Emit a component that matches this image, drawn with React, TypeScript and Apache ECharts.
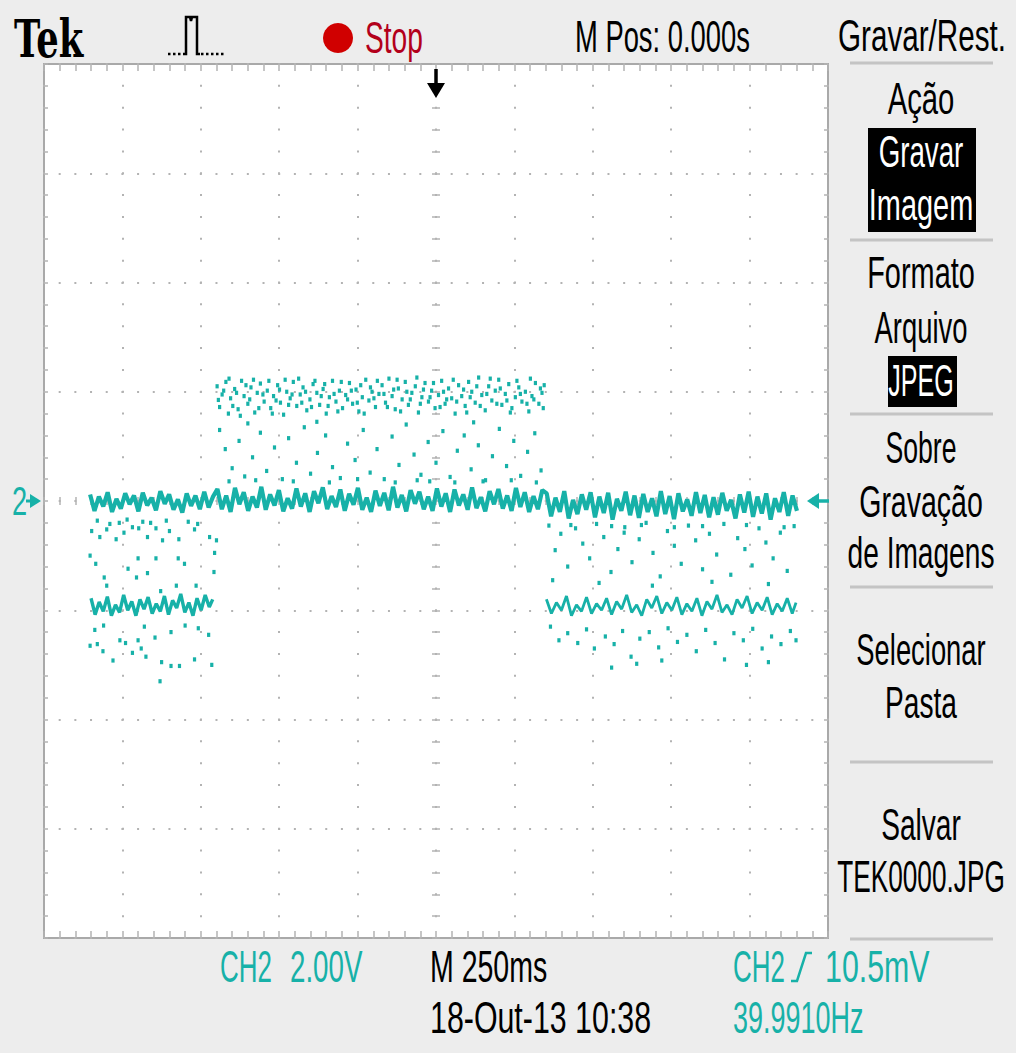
import React, { useEffect, useRef } from "react";
import * as echarts from "echarts";

// Time axis in ms (M 250ms/div, M Pos 0.000s at centre), voltage axis in V (CH2 2.00V/div)
const timeMin = -1250;
const timeMax = 1250;
const timeDiv = 250;
const voltMin = -8;
const voltMax = 8;
const voltDiv = 2;

// dense trace around 0 V
const baseBand: [number, number][] = [
  [-1103, 0.12], [-1089, -0.18], [-1075, 0.08], [-1061, -0.1], [-1047, 0.16], [-1033, -0.2], [-1019, 0.04], [-1005, -0.14],
  [-991, 0.14], [-977, -0.06], [-963, 0.1], [-949, -0.19], [-935, 0.15], [-921, -0.08], [-907, 0.06], [-893, -0.17],
  [-879, 0.18], [-865, -0.05], [-851, 0.12], [-837, -0.16], [-823, 0.03], [-809, -0.21], [-795, 0.14], [-781, -0.09],
  [-767, 0.1], [-753, -0.15], [-739, 0.17], [-725, -0.12], [-711, 0.08],
  [-697, 0.22], [-683, -0.15], [-669, 0.1], [-655, -0.2], [-641, 0.24], [-627, -0.06], [-613, 0.16], [-599, -0.18],
  [-585, 0.08], [-571, -0.12], [-557, 0.26], [-543, -0.16], [-529, 0.12], [-515, -0.08], [-501, 0.2], [-487, -0.19],
  [-473, 0.05], [-459, -0.14], [-445, 0.23], [-431, -0.1], [-417, 0.14], [-403, -0.2], [-389, 0.18], [-375, -0.04],
  [-361, 0.25], [-347, -0.15], [-333, 0.09], [-319, -0.11], [-305, 0.21], [-291, -0.18], [-277, 0.13], [-263, -0.07],
  [-249, 0.24], [-235, -0.16], [-221, 0.06], [-207, -0.2], [-193, 0.19], [-179, -0.09], [-165, 0.15], [-151, -0.17],
  [-137, 0.26], [-123, -0.12], [-109, 0.11], [-95, -0.19], [-81, 0.2], [-67, -0.05], [-53, 0.17], [-39, -0.15],
  [-25, 0.08], [-11, -0.18], [3, 0.23], [17, -0.1], [31, 0.14], [45, -0.2], [59, 0.21], [73, -0.08],
  [87, 0.12], [101, -0.16], [115, 0.25], [129, -0.13], [143, 0.07], [157, -0.19], [171, 0.18], [185, -0.06],
  [199, 0.22], [213, -0.14], [227, 0.1], [241, -0.18], [255, 0.24], [269, -0.11], [283, 0.16], [297, -0.2],
  [311, 0.09], [325, -0.15], [339, 0.2],
  [353, 0.14], [367, -0.28], [381, 0.06], [395, -0.2], [409, 0.18], [423, -0.32], [437, 0.02], [451, -0.24],
  [465, 0.12], [479, -0.16], [493, 0.16], [507, -0.3], [521, 0.08], [535, -0.22], [549, 0.15], [563, -0.34],
  [577, 0.04], [591, -0.18], [605, 0.17], [619, -0.26], [633, 0.1], [647, -0.31], [661, 0.13], [675, -0.2],
  [689, 0.05], [703, -0.28], [717, 0.18], [731, -0.24], [745, 0.09], [759, -0.33], [773, 0.14], [787, -0.19],
  [801, 0.03], [815, -0.27], [829, 0.16], [843, -0.22], [857, 0.11], [871, -0.3], [885, 0.07], [899, -0.25],
  [913, 0.15], [927, -0.18], [941, 0.02], [955, -0.32], [969, 0.12], [983, -0.21], [997, 0.17], [1011, -0.29],
  [1025, 0.08], [1039, -0.23], [1053, 0.14], [1067, -0.34], [1081, 0.05], [1095, -0.2], [1109, 0.16], [1123, -0.27],
  [1137, 0.1], [1151, -0.18],
];

// dense trace around -2 V, first segment
const lowBandA: [number, number][] = [
  [-1100, -1.78], [-1087, -2.08], [-1074, -1.85], [-1061, -2.02], [-1048, -1.75], [-1035, -2.1], [-1022, -1.9], [-1009, -2.04],
  [-996, -1.72], [-983, -2.0], [-970, -1.84], [-957, -2.1], [-944, -1.8], [-931, -1.98], [-918, -1.76], [-905, -2.06],
  [-892, -1.88], [-879, -2.02], [-866, -1.74], [-853, -2.08], [-840, -1.82], [-827, -1.96], [-814, -1.7], [-801, -2.04],
  [-788, -1.86], [-775, -2.1], [-762, -1.78], [-749, -2.0], [-736, -1.72], [-723, -1.94], [-712, -1.8],
];

// trace around -2 V, last segment
const lowBandC: [number, number][] = [
  [352, -1.8], [368, -2.06], [384, -1.86], [400, -2.0], [416, -1.74], [432, -2.1], [448, -1.9], [464, -2.02],
  [480, -1.76], [496, -2.06], [512, -1.88], [528, -2.0], [544, -1.78], [560, -2.08], [576, -1.84], [592, -1.98],
  [608, -1.72], [624, -2.04], [640, -1.9], [656, -2.1], [672, -1.8], [688, -1.96], [704, -1.74], [720, -2.06],
  [736, -1.86], [752, -2.0], [768, -1.76], [784, -2.08], [800, -1.88], [816, -2.02], [832, -1.78], [848, -2.1],
  [864, -1.84], [880, -1.98], [896, -1.72], [912, -2.04], [928, -1.9], [944, -2.08], [960, -1.8], [976, -1.96],
  [992, -1.74], [1008, -2.06], [1024, -1.86], [1040, -2.0], [1056, -1.76], [1072, -2.08], [1088, -1.88], [1104, -2.02],
  [1120, -1.78], [1136, -2.06], [1148, -1.86],
];

// scattered samples
const dotsMidA: [number, number][] = [
  [-1098, -0.55], [-1072, -0.66], [-1050, -0.52], [-1020, -0.7], [-995, -0.58], [-968, -0.48], [-948, -0.5], [-920, -0.66],
  [-893, -0.5], [-872, -0.72], [-850, -0.55], [-820, -0.7], [-770, -0.52], [-722, -0.66], [-700, -0.72], [-1103, -1.0],
  [-1085, -1.15], [-950, -1.05], [-893, -1.05], [-822, -1.05], [-802, -1.15], [-1058, -1.4], [-982, -1.24], [-955, -1.4],
  [-920, -1.32], [-1050, -1.55], [-828, -1.55], [-765, -1.55], [-878, -1.65], [-1040, -0.42], [-910, -0.4], [-760, -0.42],
  [-706, -0.95], [-708, -1.3], [-1080, -0.36], [-1010, -0.4], [-985, -0.34], [-935, -0.38], [-860, -0.36], [-790, -0.38],
];
const dotsBelowA: [number, number][] = [
  [-1088, -2.36], [-1008, -2.55], [-990, -2.6], [-950, -2.55], [-896, -2.5], [-845, -2.4], [-758, -2.33], [-725, -2.45],
  [-1103, -2.65], [-1062, -2.75], [-968, -2.78], [-925, -2.85], [-875, -2.95], [-845, -3.02], [-818, -3.02], [-770, -2.9],
  [-715, -3.0], [-880, -3.3], [-1080, -2.62], [-940, -2.7], [-1030, -2.92], [-1060, -2.28], [-930, -2.3], [-800, -2.28],
];
const dotsHighB: [number, number][] = [
  [-698, 2.1], [-690, 1.72], [-682, 1.95], [-670, 2.18], [-662, 1.6], [-655, 1.88], [-642, 2.05], [-631, 1.68],
  [-620, 2.2], [-612, 1.92], [-600, 1.78], [-590, 2.08], [-578, 1.62], [-570, 1.98], [-560, 2.15], [-548, 1.82],
  [-538, 2.02], [-527, 1.7], [-518, 1.92], [-505, 2.12], [-496, 1.8], [-486, 1.58], [-476, 2.0], [-465, 1.88],
  [-455, 2.18], [-444, 1.74], [-433, 1.95], [-424, 2.08], [-412, 1.66], [-402, 1.86], [-392, 2.14], [-380, 1.98],
  [-371, 1.76], [-360, 2.05], [-350, 1.6], [-340, 1.9], [-330, 2.2], [-319, 1.82], [-308, 2.02], [-298, 1.7],
  [-288, 1.94], [-276, 2.16], [-266, 1.78], [-255, 2.04], [-246, 1.64], [-235, 1.9], [-224, 2.22], [-214, 1.84],
  [-204, 2.0], [-193, 1.72], [-182, 1.96], [-172, 2.12], [-161, 1.8], [-150, 2.24], [-140, 1.92], [-130, 1.68],
  [-120, 2.06], [-108, 1.86], [-98, 2.18], [-88, 1.76], [-77, 1.98], [-66, 2.1], [-56, 1.62], [-45, 1.9],
  [-35, 2.16], [-24, 1.82], [-14, 2.02], [-3, 1.7], [8, 1.94], [18, 2.2], [29, 1.78], [40, 2.06],
  [50, 1.88], [61, 1.6], [72, 2.12], [82, 1.92], [93, 1.74], [104, 2.18], [114, 2.0], [125, 1.8],
  [136, 2.26], [146, 1.94], [157, 1.66], [168, 2.1], [178, 1.84], [189, 2.02], [200, 2.22], [210, 1.76],
  [221, 1.96], [232, 2.14], [242, 1.7], [253, 1.9], [264, 2.08], [274, 1.82], [285, 2.0], [296, 1.64],
  [306, 1.92], [317, 2.16], [328, 1.78], [338, 1.98], [345, 2.12],
  [-694, 1.85], [-677, 2.02], [-660, 2.24], [-648, 1.74], [-636, 1.98], [-624, 1.56], [-606, 2.12], [-594, 1.86],
  [-582, 2.22], [-565, 1.7], [-552, 1.95], [-533, 2.2], [-522, 1.6], [-510, 1.84], [-499, 2.04], [-481, 2.22],
  [-470, 1.76], [-459, 1.95], [-438, 2.24], [-428, 1.8], [-416, 2.0], [-397, 1.72], [-386, 2.2], [-366, 1.92],
  [-355, 2.14], [-344, 1.74], [-325, 1.96], [-313, 1.64], [-302, 2.18], [-282, 1.86], [-270, 2.02], [-251, 1.8],
  [-240, 2.12], [-229, 1.6], [-209, 2.08], [-198, 1.88], [-187, 2.2], [-166, 1.96], [-155, 1.72], [-135, 2.04],
  [-124, 2.22], [-113, 1.64], [-93, 2.0], [-82, 1.86], [-61, 2.26], [-50, 1.78], [-40, 2.04], [-19, 1.9],
  [-8, 2.16], [13, 1.72], [24, 2.0], [34, 1.86], [55, 2.22], [66, 1.82], [88, 2.04], [98, 1.62],
  [109, 1.9], [130, 2.1], [141, 1.74], [162, 1.96], [173, 2.24], [194, 1.78], [205, 2.06], [226, 1.84],
  [237, 1.62], [258, 2.2], [269, 1.96], [290, 1.78], [301, 2.24], [312, 1.86], [333, 2.06], [342, 1.7],
];
const dotsMidB: [number, number][] = [
  [-690, 1.3], [-672, 0.95], [-650, 0.6], [-628, 1.1], [-610, 0.45], [-585, 0.8], [-560, 1.25], [-540, 0.55],
  [-515, 0.98], [-490, 0.4], [-470, 1.15], [-445, 0.7], [-420, 1.35], [-400, 0.5], [-378, 0.88], [-352, 1.2],
  [-330, 0.62], [-305, 0.42], [-282, 1.05], [-258, 0.75], [-232, 1.3], [-210, 0.52], [-188, 0.95], [-165, 0.4],
  [-140, 1.18], [-118, 0.66], [-95, 1.4], [-70, 0.85], [-48, 0.48], [-25, 1.08], [0, 0.7], [22, 1.28],
  [45, 0.44], [68, 0.92], [90, 1.2], [112, 0.58], [135, 1.02], [158, 0.38], [180, 0.82], [202, 1.32],
  [225, 0.64], [248, 1.1], [270, 0.46], [292, 0.9], [315, 1.24], [335, 0.56], [-600, 1.42], [-380, 1.45],
  [120, 1.44], [-20, 0.36], [-660, 0.36], [-575, 0.38], [-455, 0.36], [-340, 0.34], [-250, 0.4], [-130, 0.34],
  [-60, 0.38], [60, 0.34], [150, 0.36], [240, 0.38], [320, 0.34],
];
const dotsMidC: [number, number][] = [
  [360, -0.45], [380, -0.9], [398, -0.6], [420, -1.2], [445, -0.5], [468, -0.78], [490, -1.05], [512, -0.42],
  [535, -0.66], [558, -1.3], [580, -0.88], [602, -0.48], [625, -1.12], [648, -0.7], [670, -0.4], [692, -0.95],
  [715, -1.38], [738, -0.55], [760, -0.82], [782, -1.15], [805, -0.45], [828, -0.72], [850, -1.25], [872, -0.6],
  [895, -0.98], [918, -0.42], [940, -1.35], [962, -0.68], [985, -0.88], [1008, -1.18], [1030, -0.5], [1052, -0.76],
  [1075, -1.05], [1098, -0.58], [1120, -1.28], [1142, -0.46], [372, -1.45], [520, -1.5], [690, -1.55], [880, -1.48],
  [1060, -1.52], [600, -0.58], [760, -0.48], [430, -0.44], [560, -0.46], [655, -0.44], [850, -0.46], [990, -0.44],
  [1110, -0.48],
];
const dotsBelowC: [number, number][] = [
  [365, -2.3], [392, -2.55], [420, -2.42], [452, -2.6], [480, -2.35], [505, -2.7], [540, -2.48], [568, -2.62],
  [595, -2.38], [622, -2.85], [650, -2.52], [680, -2.4], [710, -2.68], [740, -2.33], [770, -2.58], [800, -2.45],
  [830, -2.75], [860, -2.36], [890, -2.6], [920, -2.9], [950, -2.42], [980, -2.55], [1010, -2.34], [1040, -2.7],
  [1070, -2.48], [1100, -2.62], [1130, -2.38], [1148, -2.55], [560, -3.05], [640, -2.98], [720, -2.92], [990, -3.0],
  [1060, -2.95],
];

// texts
const headerTexts = { logo: "Tek", state: "Stop", position: "M Pos: 0.000s", menuTitle: "Gravar/Rest." };
const menuTexts = ["Ação", "Gravar", "Imagem", "Formato", "Arquivo", "JPEG", "Sobre", "Gravação", "de Imagens", "Selecionar", "Pasta", "Salvar", "TEK0000.JPG"];
const footerTexts = { chScale: "CH2", chVolts: "2.00V", timebase: "M 250ms", date: "18-Out-13 10:38", trigCh: "CH2", trigLevel: "10.5mV", freq: "39.9910Hz" };

const CYAN = "#17b1a8";
const GRAY = "#b3b3b3";
const FONT = '"Liberation Sans", Arial, sans-serif';
const FS = 44;

function txt(text: string, x: number, y: number, sx: number, opts: any = {}) {
  return {
    type: "text",
    x,
    y,
    scaleX: sx,
    z: 50,
    silent: true,
    style: {
      text,
      fill: opts.color || "#000",
      fontSize: opts.size || FS,
      fontFamily: opts.family || FONT,
      fontWeight: opts.weight || "normal",
      textAlign: opts.align || "center",
      align: opts.align || "center",
      textVerticalAlign: "middle",
      verticalAlign: "middle",
    },
  };
}

function hline(x1: number, x2: number, y: number, color: string, w: number) {
  return { type: "line", z: 40, silent: true, shape: { x1, y1: y, x2, y2: y }, style: { stroke: color, lineWidth: w } };
}

export default function App() {
  const ref = useRef<HTMLDivElement>(null);
  useEffect(() => {
    if (!ref.current) return;
    const chart = echarts.init(ref.current, undefined, { renderer: "svg" });

    const tickStyle = { color: GRAY, width: 1.5 };
    const xBase = {
      type: "value",
      min: timeMin,
      max: timeMax,
      interval: timeDiv,
      axisLine: { show: false, onZero: false },
      axisLabel: { show: false },
      splitLine: { show: false },
    };
    const yBase = {
      type: "value",
      min: voltMin,
      max: voltMax,
      interval: voltDiv,
      axisLine: { show: false, onZero: false },
      axisLabel: { show: false },
      splitLine: { show: false },
    };

    const menuY = [99, 152, 205, 273, 328, 381, 448, 502, 553, 650, 703, 825, 877];
    const menuSx = [0.665, 0.63, 0.657, 0.657, 0.622, 0.57, 0.605, 0.648, 0.639, 0.622, 0.639, 0.639, 0.596];
    const menuWhite = [false, true, true, false, false, true, false, false, false, false, false, false, false];

    const graphic: any[] = [
      // header
      txt(headerTexts.logo, 14, 38, 0.68, { align: "left", family: '"DejaVu Serif", serif', weight: "bold", size: 52 }),
      {
        type: "polyline", z: 50, silent: true,
        shape: { points: [[183, 54], [186, 54], [186, 17], [190, 17], [191, 21], [192, 17], [197, 17], [197, 54], [200, 54]] },
        style: { stroke: "#000", lineWidth: 2.5, fill: null },
      },
      { type: "line", z: 50, silent: true, shape: { x1: 168, y1: 54, x2: 183, y2: 54 }, style: { stroke: "#000", lineWidth: 2.5, lineDash: [2.5, 2.5] } },
      { type: "line", z: 50, silent: true, shape: { x1: 201, y1: 54, x2: 225, y2: 54 }, style: { stroke: "#000", lineWidth: 2.5, lineDash: [2.5, 2.5] } },
      { type: "circle", z: 50, silent: true, shape: { cx: 338, cy: 38, r: 15 }, style: { fill: "#d00000" } },
      txt(headerTexts.state, 365, 38, 0.64, { align: "left", color: "#b3001b" }),
      txt(headerTexts.position, 575, 37, 0.622, { align: "left" }),
      txt(headerTexts.menuTitle, 838, 36, 0.674, { align: "left" }),
      // menu
      hline(850, 993, 63, "#c4c4c4", 3),
      hline(850, 993, 240, "#c4c4c4", 3),
      hline(850, 993, 414, "#c4c4c4", 3),
      hline(850, 993, 587, "#c4c4c4", 3),
      hline(850, 993, 762, "#c4c4c4", 3),
      hline(850, 993, 939, "#c4c4c4", 3),
      { type: "rect", z: 45, silent: true, shape: { x: 868, y: 128, width: 108, height: 104 }, style: { fill: "#000" } },
      { type: "rect", z: 45, silent: true, shape: { x: 888, y: 356, width: 69, height: 51 }, style: { fill: "#000" } },
      ...menuTexts.map((t, i) => txt(t, 921, menuY[i], menuSx[i], { color: menuWhite[i] ? "#fff" : "#000" })),
      // footer
      txt(footerTexts.chScale, 220, 967, 0.59, { align: "left", color: CYAN }),
      txt(footerTexts.chVolts, 290, 967, 0.63, { align: "left", color: CYAN }),
      txt(footerTexts.timebase, 430, 967, 0.648, { align: "left" }),
      txt(footerTexts.date, 430, 1018, 0.69, { align: "left" }),
      txt(footerTexts.trigCh, 733, 967, 0.59, { align: "left", color: CYAN }),
      {
        type: "polyline", z: 50, silent: true,
        shape: { points: [[791, 981], [797, 981], [806, 953], [812, 953]] },
        style: { stroke: CYAN, lineWidth: 2.5, fill: null },
      },
      txt(footerTexts.trigLevel, 825, 967, 0.69, { align: "left", color: CYAN }),
      txt(footerTexts.freq, 733, 1018, 0.613, { align: "left", color: CYAN }),
      // channel ground marker
      txt("2", 12, 501, 0.68, { align: "left", color: CYAN, size: 40 }),
      { type: "polygon", z: 50, silent: true, shape: { points: [[30, 494], [41, 501], [30, 508]] }, style: { fill: CYAN } },
      { type: "line", z: 50, silent: true, shape: { x1: 26, y1: 501, x2: 34, y2: 501 }, style: { stroke: CYAN, lineWidth: 3 } },
      // trigger level marker
      { type: "polygon", z: 50, silent: true, shape: { points: [[807, 501], [819, 493], [819, 509]] }, style: { fill: CYAN } },
      { type: "line", z: 50, silent: true, shape: { x1: 816, y1: 501, x2: 829, y2: 501 }, style: { stroke: CYAN, lineWidth: 3.5 } },
      // trigger position marker
      { type: "line", z: 50, silent: true, shape: { x1: 436, y1: 69, x2: 436, y2: 88 }, style: { stroke: "#000", lineWidth: 3.5 } },
      { type: "polygon", z: 50, silent: true, shape: { points: [[427, 83], [445, 83], [436, 98]] }, style: { fill: "#000" } },
    ];

    const dots = [...dotsMidA, ...dotsBelowA, ...dotsHighB, ...dotsMidB, ...dotsMidC, ...dotsBelowC];

    chart.setOption({
      animation: false,
      backgroundColor: "#ededed",
      grid: {
        left: 44,
        top: 64,
        width: 784,
        height: 874,
        show: true,
        backgroundColor: "#ffffff",
        borderColor: "#a9a9a9",
        borderWidth: 2,
      },
      xAxis: [
        {
          ...xBase,
          position: "bottom",
          axisTick: { show: true, inside: true, length: 7, lineStyle: tickStyle },
          minorTick: { show: true, splitNumber: 5, length: 7, lineStyle: tickStyle },
          splitLine: { show: true, lineStyle: { color: GRAY, width: 2, type: [2, 19.85], dashOffset: 1 } },
        },
        {
          ...xBase,
          position: "top",
          axisTick: { show: true, inside: true, length: 7, lineStyle: tickStyle },
          minorTick: { show: true, splitNumber: 5, length: 7, lineStyle: tickStyle },
        },
        {
          ...xBase,
          position: "bottom",
          offset: -441,
          axisTick: { show: true, inside: false, length: 8, lineStyle: tickStyle },
          minorTick: { show: true, splitNumber: 5, length: 8, lineStyle: tickStyle },
        },
      ],
      yAxis: [
        {
          ...yBase,
          position: "left",
          axisTick: { show: true, inside: true, length: 4, lineStyle: tickStyle },
          minorTick: { show: true, splitNumber: 5, length: 4, lineStyle: tickStyle },
          splitLine: { show: true, lineStyle: { color: GRAY, width: 2, type: [2, 13.68], dashOffset: 1 } },
        },
        {
          ...yBase,
          position: "right",
          axisTick: { show: true, inside: true, length: 4, lineStyle: tickStyle },
          minorTick: { show: true, splitNumber: 5, length: 4, lineStyle: tickStyle },
        },
        {
          ...yBase,
          position: "left",
          offset: -396,
          axisTick: { show: true, inside: false, length: 8, lineStyle: tickStyle },
          minorTick: { show: true, splitNumber: 5, length: 8, lineStyle: tickStyle },
        },
      ],
      graphic,
      series: [
        {
          name: "CH2 0V",
          type: "line",
          xAxisIndex: 0,
          yAxisIndex: 0,
          data: baseBand,
          showSymbol: false,
          silent: true,
          lineStyle: { color: CYAN, width: 4.2 },
          z: 5,
        },
        {
          name: "CH2 low A",
          type: "line",
          xAxisIndex: 0,
          yAxisIndex: 0,
          data: lowBandA,
          showSymbol: false,
          silent: true,
          lineStyle: { color: CYAN, width: 3.4 },
          z: 5,
        },
        {
          name: "CH2 low C",
          type: "line",
          xAxisIndex: 0,
          yAxisIndex: 0,
          data: lowBandC,
          showSymbol: false,
          silent: true,
          lineStyle: { color: CYAN, width: 2.8 },
          z: 5,
        },
        {
          name: "CH2 samples",
          type: "scatter",
          xAxisIndex: 0,
          yAxisIndex: 0,
          data: dots,
          symbol: "rect",
          symbolSize: [3.2, 4.2],
          silent: true,
          itemStyle: { color: CYAN, opacity: 1 },
          z: 5,
        },
      ],
    });
    return () => chart.dispose();
  }, []);

  return <div ref={ref} style={{ position: "absolute", left: 0, top: 0, width: 1016, height: 1053 }} />;
}
